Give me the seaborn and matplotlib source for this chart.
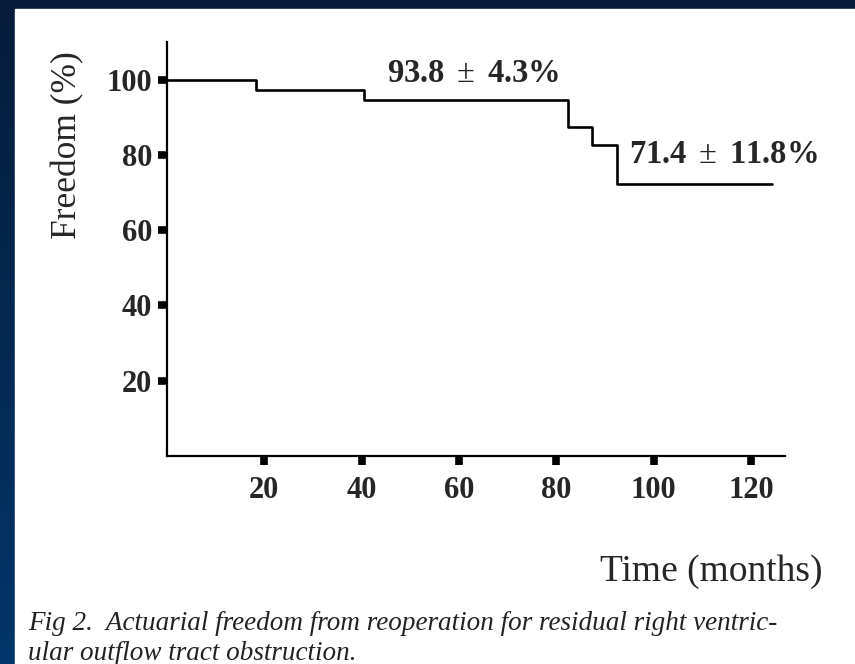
import numpy as np
import pandas as pd
import matplotlib
matplotlib.use("Agg")
import matplotlib.pyplot as plt
import seaborn as sns
from matplotlib.patches import Rectangle

# ---- data ----
time_months = [0, 18.3, 40.4, 82.5, 87.4, 92.5, 124.3]
freedom_pct = [100, 97.2, 94.6, 87.5, 82.7, 72.3, 72.3]
x_ticks = [20, 40, 60, 80, 100, 120]
y_ticks = [20, 40, 60, 80, 100]
label_a = ("93.8", "4.3%")
label_b = ("71.4", "11.8%")
caption_lines = [
    "Fig 2.  Actuarial freedom from reoperation for residual right ventric-",
    "ular outflow tract obstruction.",
]

sns.set_theme(style="white")
plt.rcParams["font.family"] = ["Liberation Serif", "DejaVu Serif"]
plt.rcParams["mathtext.fontset"] = "custom"
plt.rcParams["mathtext.rm"] = "Liberation Serif"
plt.rcParams["mathtext.bf"] = "Liberation Serif:bold"
plt.rcParams["mathtext.it"] = "Liberation Serif:italic"

W, H = 855, 664
fig = plt.figure(figsize=(W / 100, H / 100), dpi=100)

# background gradient + white panel
bg = fig.add_axes([0, 0, 1, 1], zorder=-10)
top = np.array([0x06, 0x1c, 0x3a]) / 255
bot = np.array([0x02, 0x36, 0x6a]) / 255
t = np.linspace(0, 1, 256)[:, None]
grad = (top[None, :] * (1 - t) + bot[None, :] * t)[:, None, :]
bg.imshow(grad, aspect="auto", extent=[0, 1, 0, 1], origin="upper")
bg.add_patch(Rectangle((15 / W, 0), 1, 1 - 9 / H, color="white", transform=bg.transAxes))
bg.set_xlim(0, 1); bg.set_ylim(0, 1)
bg.axis("off")

ax = fig.add_axes([167 / W, 1 - 456 / H, (785 - 167) / W, (456 - 42) / H])
ax.set_facecolor("none")
df = pd.DataFrame({"Time": time_months, "Freedom": freedom_pct})
sns.lineplot(data=df, x="Time", y="Freedom", drawstyle="steps-post",
             color="black", linewidth=1.9, ax=ax)

ax.set_xlim(0, 127)
ax.set_ylim(0, 110)
ax.set_xticks(x_ticks)
ax.set_yticks(y_ticks)
ax.set_xticklabels([str(v) for v in x_ticks], fontweight="bold", fontsize=22)
ax.set_yticklabels([str(v) for v in y_ticks], fontweight="bold", fontsize=22)
ax.tick_params(axis="both", which="major", direction="out", length=6.5, width=5.5,
               color="black", left=True, bottom=True)
ax.tick_params(axis="x", pad=8)
ax.tick_params(axis="y", pad=4)
for side in ["top", "right"]:
    ax.spines[side].set_visible(False)
for side in ["left", "bottom"]:
    ax.spines[side].set_color("black")
    ax.spines[side].set_linewidth(1.6)
ax.set_xlabel("")
ax.set_ylabel("")

ax.text(63, 101.5, r"$\mathbf{%s}\ \pm\ \mathbf{%s}$" % (label_a[0], label_a[1].replace("%", r"\%")),
        ha="center", va="center", fontsize=23.5)
ax.text(114.3, 80, r"$\mathbf{%s}\ \pm\ \mathbf{%s}$" % (label_b[0], label_b[1].replace("%", r"\%")),
        ha="center", va="center", fontsize=23.5)

fig.text(68 / W, 1 - 145 / H, "Freedom (%)", rotation=90, ha="center", va="center", fontsize=25.5)
fig.text(822 / W, 1 - 572 / H, "Time (months)", ha="right", va="center", fontsize=27)
fig.text(28 / W, 1 - 624 / H, caption_lines[0], ha="left", va="center",
         fontsize=19.5, style="italic", color="#222222")
fig.text(28 / W, 1 - 653 / H, caption_lines[1], ha="left", va="center",
         fontsize=19.5, style="italic", color="#222222")

fig.savefig("out.png", dpi=100)
